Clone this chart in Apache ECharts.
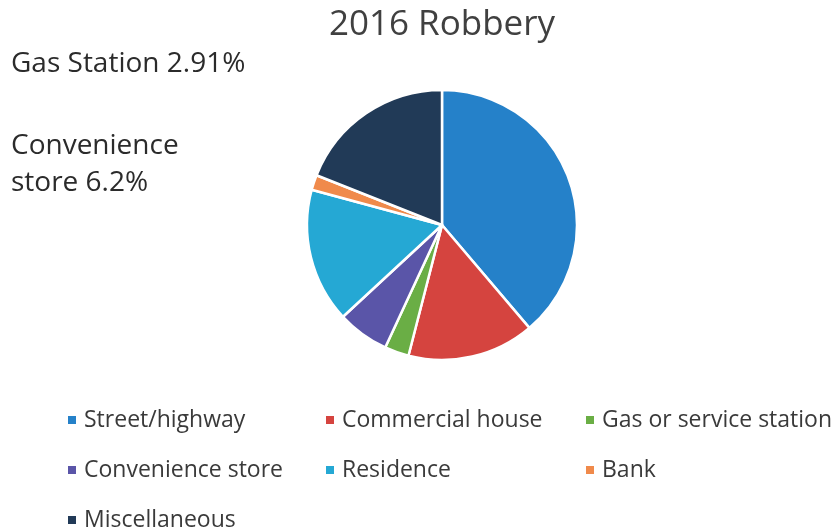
<!DOCTYPE html>
<html>
<head>
<meta charset="utf-8">
<script src="https://cdn.jsdelivr.net/npm/echarts@6/dist/echarts.min.js"></script>
<style>
  html, body { margin: 0; padding: 0; background: #fff; }
  #chart { width: 832px; height: 529px; }
</style>
</head>
<body>
<div id="chart"></div>
<script>
// 2016 robbery locations, share of incidents (%)
const categories = ['Street/highway', 'Commercial house', 'Gas or service station',
  'Convenience store', 'Residence', 'Bank', 'Miscellaneous'];
const shares = [38.8, 15.2, 2.91, 6.2, 16.1, 1.8, 18.99];
const sliceColors = ['#2581C9', '#D5443F', '#6AAE45', '#5A55A8', '#25A8D4', '#F08A4B', '#213A57'];

// legend grid: three columns, filled row by row
const legendColumnX = [66, 324, 584];
const legendRowY = [408, 458, 508];

const chartTitle = '2016 Robbery';
const notes = ['Gas Station 2.91%', 'Convenience', 'store 6.2%'];

const FONT = '"Open Sans", sans-serif';
const chart = echarts.init(document.getElementById('chart'));

function noteText(text, x, y, size, color, align) {
  return {
    type: 'text', x, y, silent: true,
    style: {
      text, fill: color, font: size + 'px ' + FONT,
      textAlign: align, textVerticalAlign: 'middle'
    }
  };
}

chart.setOption({
  backgroundColor: '#fff',
  animation: false,
  graphic: [
    noteText(chartTitle, 442, 25, 35, '#404040', 'center'),
    noteText(notes[0], 11, 64, 28, '#2b2b2b', 'left'),
    noteText(notes[1], 11, 146, 28, '#2b2b2b', 'left'),
    noteText(notes[2], 11, 183, 28, '#2b2b2b', 'left')
  ],
  legend: categories.map((name, i) => ({
    left: legendColumnX[i % 3],
    top: legendRowY[Math.floor(i / 3)],
    padding: 0,
    data: [name],
    icon: 'rect',
    itemWidth: 10,
    itemHeight: 10,
    selectedMode: false,
    textStyle: { fontFamily: FONT, fontSize: 23, lineHeight: 24, color: '#3a3a3a', padding: [0, 0, 0, 2] }
  })),
  series: [{
    type: 'pie',
    center: [442, 225],
    radius: 135,
    startAngle: 90,
    clockwise: true,
    label: { show: false },
    labelLine: { show: false },
    emphasis: { disabled: true },
    itemStyle: { borderColor: '#fff', borderWidth: 2.5 },
    data: categories.map((name, i) => ({
      name, value: shares[i], itemStyle: { color: sliceColors[i] }
    }))
  }]
});
</script>
</body>
</html>
